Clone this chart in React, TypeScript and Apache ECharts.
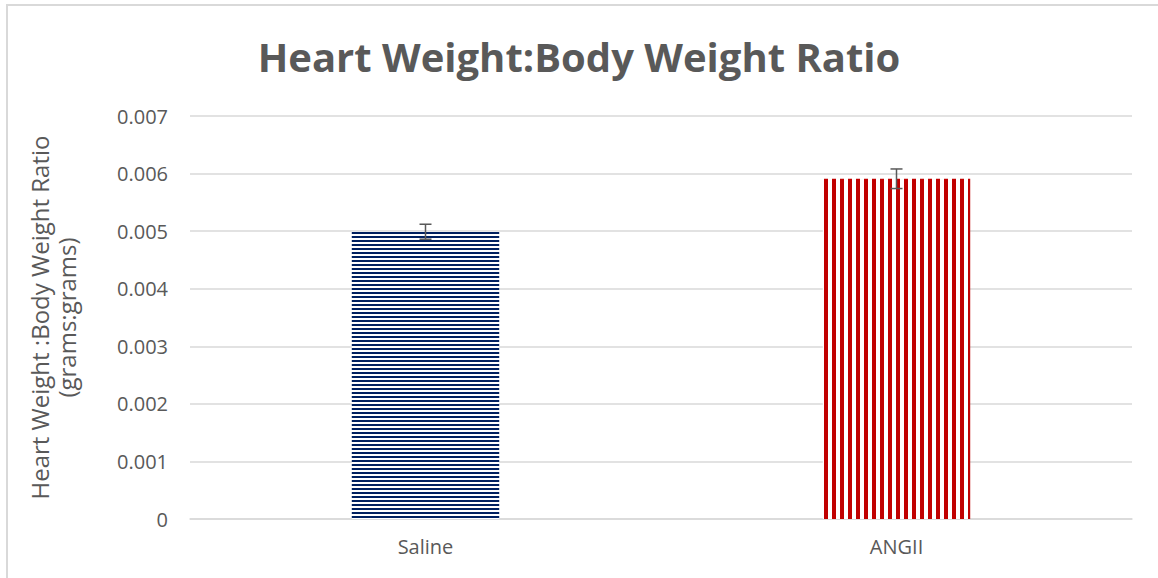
import React, { useEffect, useRef } from "react";
import * as echarts from "echarts";

const categories = ["Saline", "ANGII"];
const means = [0.00499, 0.00591];
const errors = [0.00013, 0.00017];
const yTicks = [0, 0.001, 0.002, 0.003, 0.004, 0.005, 0.006, 0.007];

function makePattern(color: string, horizontal: boolean) {
  const c = document.createElement("canvas");
  if (horizontal) {
    c.width = 4;
    c.height = 4;
    const ctx = c.getContext("2d")!;
    ctx.fillStyle = "#ffffff";
    ctx.fillRect(0, 0, 4, 4);
    ctx.fillStyle = color;
    ctx.fillRect(0, 0, 4, 2);
  } else {
    c.width = 8;
    c.height = 8;
    const ctx = c.getContext("2d")!;
    ctx.fillStyle = "#ffffff";
    ctx.fillRect(0, 0, 8, 8);
    ctx.fillStyle = color;
    ctx.fillRect(0, 0, 4, 8);
  }
  return { image: c, repeat: "repeat" } as any;
}

export default function App() {
  const ref = useRef<HTMLDivElement>(null);
  useEffect(() => {
    document.body.style.margin = "0";
    const chart = echarts.init(ref.current!, null, { renderer: "svg" });
    const fills = [makePattern("#002060", true), makePattern("#C00000", false)];
    chart.setOption({
      animation: false,
      backgroundColor: "#ffffff",
      title: {
        text: "Heart Weight:Body Weight Ratio",
        left: "center",
        top: 31,
        textStyle: {
          fontFamily: "Open Sans",
          fontWeight: "bold",
          fontSize: 40,
          color: "#595959",
        },
      },
      graphic: [
        {
          type: "polyline",
          shape: { points: [[7, 600], [7, 5], [1200, 5]] },
          style: { stroke: "#d9d9d9", lineWidth: 2, fill: null },
          silent: true,
        },
      ],
      grid: { left: 190, right: 26, top: 116, bottom: 59 },
      xAxis: {
        type: "category",
        data: categories,
        axisLine: { lineStyle: { color: "#d9d9d9", width: 1.5 } },
        axisTick: { show: false },
        axisLabel: {
          color: "#595959",
          fontFamily: "Open Sans",
          fontSize: 20,
          margin: 17,
        },
      },
      yAxis: {
        type: "value",
        min: 0,
        max: 0.007,
        interval: 0.001,
        name: "Heart Weight :Body Weight Ratio\n(grams:grams)",
        nameLocation: "middle",
        nameGap: 110,
        nameRotate: 90,
        nameTextStyle: {
          color: "#595959",
          fontFamily: "Open Sans",
          fontSize: 24,
          lineHeight: 27,
        },
        axisLine: { show: false },
        axisTick: { show: false },
        splitLine: { lineStyle: { color: "#d9d9d9", width: 1.5 } },
        axisLabel: {
          color: "#595959",
          fontFamily: "Open Sans",
          fontSize: 20,
          margin: 22,
          formatter: (v: number) => {
            const t = yTicks.find((x) => Math.abs(x - v) < 1e-9);
            return t === 0 ? "0" : (t ?? v).toFixed(3);
          },
        },
      },
      series: [
        {
          type: "bar",
          data: means.map((m, i) => ({ value: m, itemStyle: { color: fills[i] } })),
          barWidth: "31.3%",
        },
        {
          type: "custom",
          data: means.map((m, i) => [i, m - errors[i], m + errors[i]]),
          renderItem: (params: any, api: any) => {
            const x = api.value(0);
            const lo = api.coord([x, api.value(1)]);
            const hi = api.coord([x, api.value(2)]);
            const cap = 6;
            const style = { stroke: "#595959", lineWidth: 1.5 };
            return {
              type: "group",
              children: [
                { type: "line", shape: { x1: lo[0], y1: lo[1], x2: hi[0], y2: hi[1] }, style },
                { type: "line", shape: { x1: lo[0] - cap, y1: lo[1], x2: lo[0] + cap, y2: lo[1] }, style },
                { type: "line", shape: { x1: hi[0] - cap, y1: hi[1], x2: hi[0] + cap, y2: hi[1] }, style },
              ],
            };
          },
          z: 5,
        },
      ],
    });
    return () => chart.dispose();
  }, []);
  return <div ref={ref} style={{ width: 1158, height: 578 }} />;
}
